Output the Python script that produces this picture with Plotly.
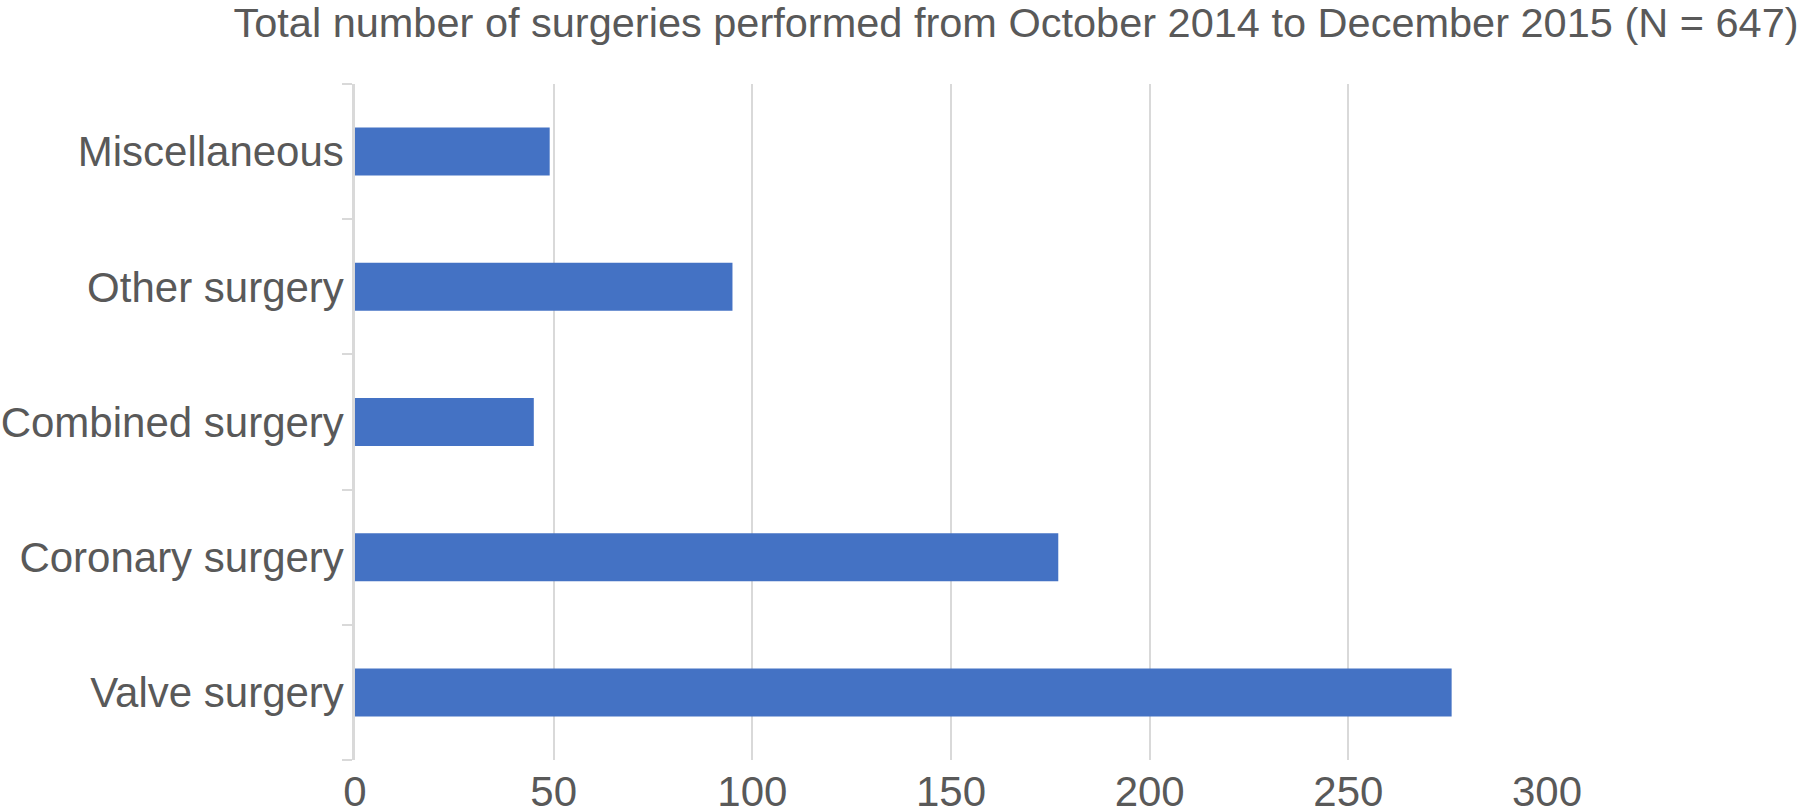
import plotly.graph_objects as go

categories = ["Valve surgery", "Coronary surgery", "Combined surgery", "Other surgery", "Miscellaneous"]
counts = [276, 177, 45, 95, 49]
x_ticks = [0, 50, 100, 150, 200, 250, 300]
title_text = "Total number of surgeries performed from October 2014 to December 2015 (N = 647)"

FONT = "Liberation Sans, Arial, Helvetica, sans-serif"
TXT = "#595959"
GRID = "#d9d9d9"

fig = go.Figure(
    go.Bar(
        x=counts,
        y=categories,
        orientation="h",
        marker=dict(color="#4472C4", line=dict(width=0)),
        hoverinfo="x+y",
    )
)

fig.update_layout(
    width=1804,
    height=812,
    paper_bgcolor="white",
    plot_bgcolor="white",
    margin=dict(l=355, r=257, t=84, b=52, autoexpand=False),
    bargap=0.645,
    showlegend=False,
    font=dict(family=FONT, size=42, color=TXT),
    title=dict(
        text=title_text,
        font=dict(family=FONT, size=41.5, color=TXT),
        xref="container",
        yref="container",
        x=1016 / 1804,
        xanchor="center",
        y=1 - 22 / 812,
        yanchor="middle",
        automargin=False,
    ),
)

fig.update_xaxes(
    range=[0, 300],
    tickvals=x_ticks,
    ticktext=[str(v) for v in x_ticks],
    showgrid=True,
    gridcolor=GRID,
    gridwidth=2,
    zeroline=False,
    showline=False,
    ticks="",
    ticklabelstandoff=3,
    tickfont=dict(family=FONT, size=42, color=TXT),
    automargin=False,
    fixedrange=True,
)

fig.update_yaxes(
    type="category",
    categoryorder="array",
    categoryarray=categories,
    showline=True,
    linecolor=GRID,
    linewidth=2.5,
    ticks="outside",
    tickson="boundaries",
    ticklen=10,
    tickwidth=2,
    tickcolor=GRID,
    showgrid=False,
    tickfont=dict(family=FONT, size=42, color=TXT),
    automargin=False,
    fixedrange=True,
)

fig.write_html(
    "out.html",
    config={"displayModeBar": False},
    post_script="document.body.style.margin='0';document.body.style.overflow='hidden';",
)
